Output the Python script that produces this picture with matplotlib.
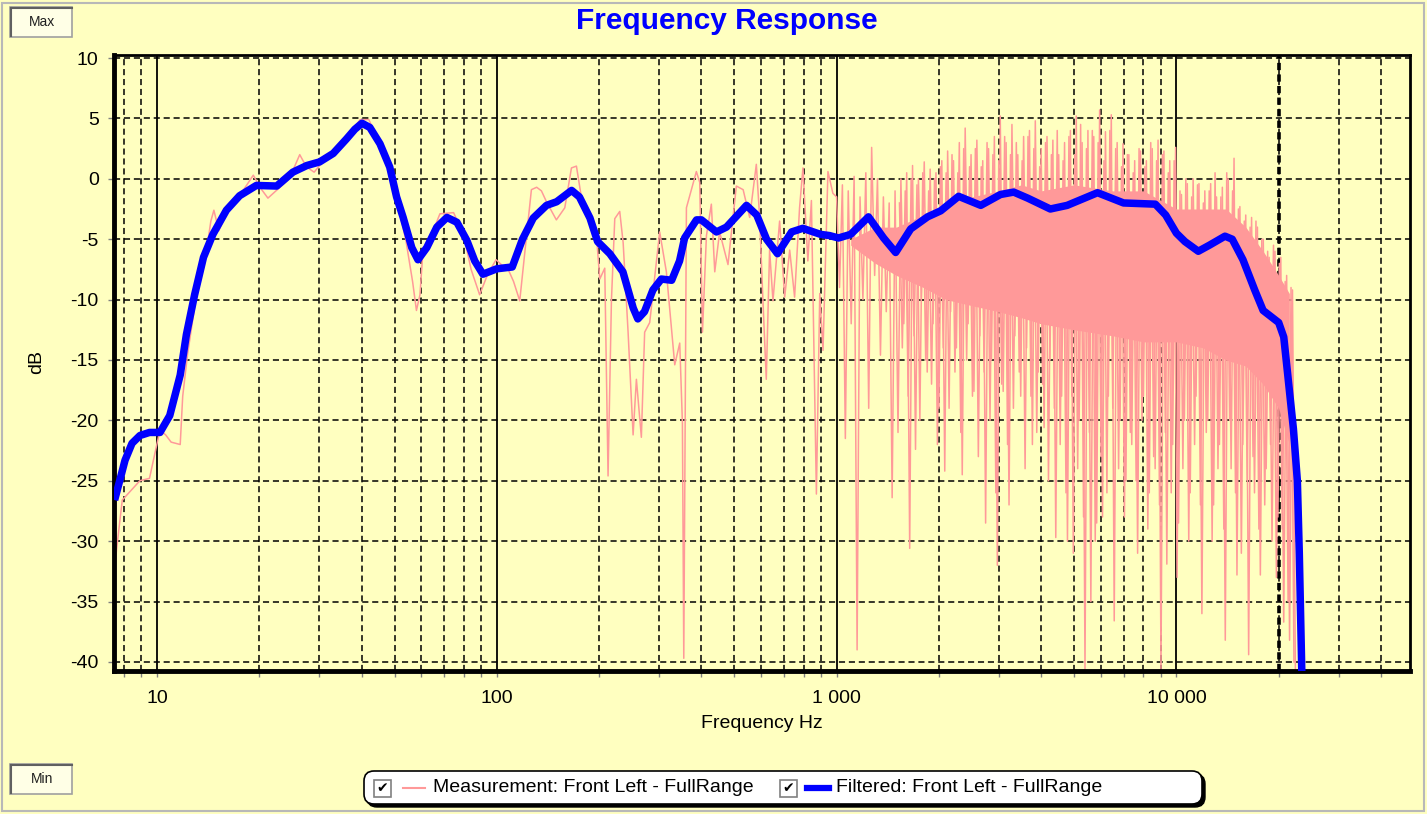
import matplotlib
matplotlib.use("Agg")
import matplotlib.pyplot as plt
from matplotlib.ticker import FixedLocator, FuncFormatter, LogLocator, NullFormatter
from matplotlib.patches import Rectangle, FancyBboxPatch
from matplotlib.lines import Line2D

plt.rcParams['font.family'] = ['Liberation Sans', 'DejaVu Sans']
plt.rcParams['axes.unicode_minus'] = False

W, H = 1427, 814
BG = '#FFFFC0'
PINK = '#FF9999'
BLUE = '#0000FF'

### data ###
# measurement, low / mid range
meas_lf_freq = [7.5, 7.6, 7.9, 8.9, 9.5, 10.0, 10.2, 10.6, 11.0, 11.7,
                11.9, 12.3, 13.0, 13.8, 14.4, 14.7, 15.2, 16.0, 17.5, 19.2,
                20.2, 21.2, 23.0, 24.5, 26.3, 27.5, 29.0, 30.5, 33.0, 36.0,
                39.6, 42.0, 45.0, 49.0, 51.5, 54.0, 56.5, 58.0, 59.4, 60.5,
                63.7, 68.0, 74.6, 79.8, 84.0, 89.0, 94.0, 99.5, 104, 108,
                112, 116.8, 121, 126.4, 131, 135.3, 140, 149.7, 158.5, 165.8,
                171.5, 179.4, 188, 196.4, 200.9, 207.8, 212.5, 217.4, 222.4, 230,
                235.4, 243.4, 251.8, 257.5, 266.3, 272.3, 281.8, 301.5, 315.5, 333.9,
                345.4, 351.7, 355, 361.4, 386.6, 395.5, 402.9, 413.9, 427.9, 437.9,
                452.6, 479, 506.9, 530.8, 554.8, 580.4, 593.6, 607, 620.9, 635,
                649.7, 679.6, 703.4, 727.6, 752.3, 778, 796, 823, 843, 872,
                892, 912, 943, 975]
meas_lf_db = [-32.5, -30.7, -26.6, -25.0, -24.8, -21.9, -20.8, -21.2, -21.8, -22.0,
              -18.0, -14.5, -10.0, -7.0, -3.5, -2.6, -4.3, -2.8, -1.4, 0.3,
              -0.8, -1.6, -0.7, 0.0, 2.0, 1.0, 0.55, 1.3, 2.1, 3.3,
              4.9, 4.9, 3.1, 0.4, -2.5, -5.1, -8.5, -10.9, -9.6, -6.3,
              -4.9, -2.9, -2.8, -4.6, -7.5, -9.6, -7.9, -6.7, -7.2, -7.5,
              -8.5, -10.1, -6.0, -0.9, -0.7, -1.0, -1.9, -3.4, -2.4, 0.9,
              1.05, -2.4, -3.5, -4.7, -8.3, -7.4, -24.6, -10.1, -3.3, -2.7,
              -5.3, -12.7, -21.2, -16.6, -21.4, -12.7, -11.9, -4.4, -7.7, -15.4,
              -13.6, -20.2, -39.7, -2.4, 0.6, -0.3, -12.7, -4.7, -2.1, -7.7,
              -4.4, -7.1, -0.6, -0.9, -3.2, 1.2, -3.2, -10.1, -16.6, -5.9,
              -10.1, -3.5, -9.8, -5.9, -9.8, -2.4, 0.9, -6.8, -1.8, -26.1,
              -9.5, -14.2, 0.6, -1.2]

# measurement, high range (peaks and dips alternate)
meas_hf_freq = [1000, 1020, 1040, 1061, 1082, 1104, 1126, 1149, 1172, 1195,
                1219, 1243, 1268, 1294, 1319, 1346, 1373, 1400, 1428, 1457,
                1486, 1516, 1546, 1577, 1608, 1641, 1673, 1707, 1741, 1776,
                1811, 1848, 1885, 1922, 1961, 2000, 2040, 2081, 2122, 2165,
                2208, 2252, 2297, 2343, 2390, 2438, 2487, 2536, 2587, 2639,
                2692, 2745, 2800, 2856, 2913, 2972, 3031, 3092, 3154, 3217,
                3281, 3347, 3414, 3482, 3551, 3623, 3695, 3769, 3844, 3921,
                4000, 4080, 4161, 4245, 4330, 4416, 4505, 4595, 4687, 4780,
                4876, 4973, 5073, 5174, 5278, 5383, 5491, 5601, 5713, 5827,
                5944, 6062, 6184, 6307, 6433, 6562, 6693, 6827, 6964, 7103,
                7245, 7390, 7538, 7689, 7842, 7999, 8159, 8322, 8489, 8659,
                8832, 9009, 9189, 9373, 9560, 9751, 9946, 10145, 10348, 10555,
                10766, 10982, 11201, 11425, 11654, 11887, 12125, 12367, 12615, 12867,
                13124, 13387, 13654, 13928, 14206, 14490, 14780, 15076, 15377, 15685,
                15999, 16319, 16645, 16978, 17317, 17664, 18017, 18377, 18745, 19120,
                19502, 19892, 20290, 20696, 21110, 21532, 21963, 22402]
meas_hf_db = [-1.5, -9, -0.5, -21.5, -1, -12, 0.2, -39, -1.5, -10,
              0.5, -19, 2.6, -8, 0, -14.6, -1.5, -11, -2, -26.4,
              -1, -21, 0, -12, 0.5, -30.6, 1.1, -22.4, 0, -10,
              1.4, -16, 0.8, -12, 0.5, -19, 1.5, -24.2, 2.3, -11,
              1.5, -14, 3, -24.5, 4.2, -12, 2, -17.6, 3.2, -13,
              1.5, -28.5, 2.5, -15, 3.5, -32, 5.2, -17.6, 3, -27,
              4.5, -13, 2, -18, 3.5, -14, 4, -22, 4.8, -16,
              2.5, -20.6, 3.5, -15, 3.2, -29.7, 2, -18, 3, -30,
              4, -31, 5.2, -20, 3, -40.6, 4, -35, 3.5, -28.5,
              5.7, -28, 3.9, -18, 5.3, -36.6, 3, -20, 2.9, -25,
              2, -22, 1.5, -31, 2.3, -18, 1.5, -26, 2.5, -24,
              3.2, -40.6, 2.3, -31.9, 1.5, -22, 2.6, -28.5, -1.3, -20,
              -0.4, -26, 0, -18, -0.4, -36, -1, -20, -0.4, -27,
              -1.5, -22, -0.7, -38.2, 0, -24, 1.7, -32.8, -2.3, -22,
              -3, -39.4, -3.2, -26, -4, -32.8, -5, -24, -6.5, -30,
              -6, -28, -6.5, -36.7, -8, -38.2, -9.2, -41]

# measurement, extra spikes between the ones above
meas_hf2_freq = [1531, 1561, 1592, 1624, 1657, 1690, 1724, 1758, 1793, 1829,
                 1866, 1903, 1941, 1980, 2020, 2060, 2101, 2143, 2186, 2230,
                 2274, 2320, 2366, 2414, 2462, 2511, 2561, 2613, 2665, 2718,
                 2772, 2828, 2884, 2942, 3001, 3061, 3123, 3185, 3249, 3314,
                 3380, 3448, 3516, 3587, 3659, 3732, 3806, 3882, 3960, 4040,
                 4120, 4203, 4287, 4373, 4460, 4550, 4641, 4733, 4828, 4924,
                 5023, 5123, 5226, 5330, 5437, 5546, 5657, 5770, 5885, 6003,
                 6123, 6245, 6370, 6498, 6628, 6760, 6895, 7033, 7174, 7318,
                 7464, 7613, 7765, 7921, 8079, 8240, 8405, 8573, 8745, 8920,
                 9099, 9281, 9466, 9656, 9849, 10046, 10246, 10451, 10660, 10874,
                 11091, 11313, 11539, 11770, 12006, 12246, 12491, 12741, 12996, 13255,
                 13520, 13791, 14067, 14348, 14635, 14928, 15226, 15531, 15842, 16159,
                 16482, 16811, 17148, 17491, 17840, 18197, 18561, 18932, 19311, 19697,
                 20091, 20493, 20903, 21321, 21747, 22182]
meas_hf2_db = [-2, -14, -1, -18, 0, -13, -0.5, -20, 0.5, -15,
               -1, -17, 0, -22, 1, -14, 0.5, -19, 2, -16,
               0.5, -21, 2.5, -15, 1, -18, 2.5, -23, 1, -16,
               3, -20, 2, -26, 1.5, -17, 3.5, -22, 2, -19,
               3, -16, 1.5, -24, 3.5, -18, 2.5, -21, 1, -17,
               3, -25, 2, -19, 4, -22, 1.5, -26, 3.5, -18,
               2, -24, 4.5, -28, 2.5, -21, 4, -30, 3, -23,
               1.5, -26, 4, -19, 2.5, -24, 1, -28, 2, -21,
               0.5, -25, 2.5, -20, 1, -29, 3, -23, 1.5, -27,
               2, -21, 0.5, -26, 1.5, -33, -1, -24, 0, -30,
               -1.5, -22, -0.5, -27, -2, -21, -1, -30, 0.5, -24,
               -1.5, -29, 0.5, -20, -1, -26, -2.5, -31, -3.5, -25,
               -4, -23, -3.5, -29, -5, -27, -6, -22, -5.5, -33,
               -7, -29, -8.5, -35, -9, -40]

# dense core of the measurement trace (where it fills solid)
core_freq = [1100, 1300, 1500, 1800, 2100, 2500, 3000, 3500, 4000, 5000,
             6500, 8000, 10000, 12000, 14000, 16000, 18000, 20000, 21500]
core_top = [-5, -4, -4, -3, -2, -1.5, -1, -0.5, -1, -0.5,
            -1, -1, -2.5, -2.5, -2.5, -4, -6, -8, -9.5]
core_bot = [-5.5, -7, -8, -9, -10, -10.5, -11, -11.5, -12, -12.5,
            -13, -13.5, -13.5, -14, -15, -15.5, -17, -19, -22]

# filtered (smoothed) response
filt_freq = [7.5, 7.78, 8.05, 8.44, 8.91, 9.5, 10.2, 10.9, 11.7, 12.2,
             12.9, 13.7, 14.6, 16.0, 17.5, 19.6, 22.5, 25.1, 27.6, 30.1,
             33.0, 36.1, 38.2, 40.1, 42.3, 45.3, 48.4, 50.7, 53.0, 56.2, 58.6,
             62.2, 66.6, 71.3, 76.3, 81.6, 86.1, 91.0, 100, 111, 119,
             128, 140, 150, 166, 175, 188, 198, 215, 235, 252,
             260, 272, 288, 305, 327, 345, 357, 387, 400, 443,
             474, 543, 582, 622, 670, 737, 795, 897, 953, 1013,
             1100, 1241, 1375, 1492, 1652, 1852, 2025, 2286, 2656, 3036,
             3320, 3650, 4256, 4770, 5860, 6990, 8670, 9300, 10000, 10600,
             11600, 12500, 13900, 14600, 15700, 17000, 18000, 20000, 20700, 21300,
             22100, 22700, 23000, 23400]
filt_db = [-26.6, -24.9, -23.3, -21.9, -21.25, -21.0, -21.0, -19.6, -16.25, -12.9,
           -9.6, -6.5, -4.6, -2.6, -1.4, -0.55, -0.6, 0.55, 1.1, 1.4,
           2.1, 3.3, 4.1, 4.6, 4.25, 2.9, 0.97, -1.5, -3.2, -5.7, -6.7,
           -5.7, -4.0, -3.2, -3.6, -5.1, -6.8, -7.9, -7.45, -7.3, -5.0,
           -3.25, -2.2, -1.9, -0.96, -1.5, -3.25, -5.2, -6.2, -7.7, -10.7,
           -11.6, -11.0, -9.2, -8.3, -8.4, -6.8, -4.9, -3.4, -3.4, -4.4,
           -4.0, -2.2, -3.0, -5.0, -6.2, -4.4, -4.1, -4.6, -4.7, -4.9,
           -4.6, -3.15, -4.9, -6.1, -4.15, -3.15, -2.65, -1.45, -2.2, -1.3,
           -1.1, -1.6, -2.5, -2.2, -1.15, -2.0, -2.1, -3.0, -4.5, -5.2,
           -6.0, -5.5, -4.75, -5.0, -6.7, -9.2, -10.9, -11.9, -13.1, -16.4,
           -20.7, -25.0, -31.0, -41.0]

x_major = [10, 100, 1000, 10000]
y_ticks = [-40, -35, -30, -25, -20, -15, -10, -5, 0, 5, 10]

meas_label = 'Measurement: Front Left - FullRange'
filt_label = 'Filtered: Front Left - FullRange'


def inch(x, y):
    # pixel position (top-left origin) -> inches from bottom-left
    return x / 100.0, (H - y) / 100.0


fig = plt.figure(figsize=(W / 100, H / 100), dpi=100, facecolor=BG)
ax = fig.add_axes([114 / W, 1 - 671 / H, (1410 - 114) / W, (671 - 55) / H])
ax.set_facecolor(BG)
ax.set_xscale('log')
ax.set_xlim(7.47, 48700)
ax.set_ylim(-40.75, 10.25)

# grid
ax.set_axisbelow(True)
ax.xaxis.set_major_locator(FixedLocator(x_major))
ax.xaxis.set_minor_locator(LogLocator(base=10, subs=range(2, 10), numticks=20))
ax.xaxis.set_major_formatter(FuncFormatter(lambda v, p: f'{int(round(v)):,}'.replace(',', ' ')))
ax.xaxis.set_minor_formatter(NullFormatter())
ax.yaxis.set_major_locator(FixedLocator(y_ticks))
ax.grid(which='major', axis='x', color='black', ls='-', lw=1.3)
ax.grid(which='minor', axis='x', color='black', ls=(0, (4, 2.5)), lw=1.1)
ax.grid(which='major', axis='y', color='black', ls=(0, (4, 2.5)), lw=1.1)
ax.axvline(20000, color='black', ls=(0, (2, 1.2)), lw=2.6, zorder=1)

ax.tick_params(axis='both', which='both', direction='out', color='#808080',
               length=4, width=1, labelsize=14, labelcolor='black')
ax.tick_params(axis='x', which='both', pad=10)
ax.tick_params(axis='y', pad=7)

for side, lw in (('left', 3.5), ('bottom', 3.5), ('top', 2), ('right', 2)):
    ax.spines[side].set_linewidth(lw)
    ax.spines[side].set_color('black')

# measurement trace
ax.fill_between(core_freq, core_bot, core_top, color=PINK, lw=0, zorder=2)
ax.plot(meas_lf_freq + meas_hf_freq, meas_lf_db + meas_hf_db, color=PINK, lw=1.1, zorder=2)
ax.plot(meas_hf2_freq, meas_hf2_db, color=PINK, lw=1.1, zorder=2)
# filtered trace
ax.plot(filt_freq, filt_db, color=BLUE, lw=5.4, solid_joinstyle='round',
        solid_capstyle='butt', zorder=3)

# texts
fig.text(727 / W, 1 - 21 / H, 'Frequency Response', color=BLUE, fontsize=21.5,
         fontweight='bold', ha='center', va='center')
fig.text(762 / W, 1 - 724 / H, 'Frequency Hz', fontsize=14, ha='center', va='center')
fig.text(37 / W, 1 - 362 / H, 'dB', fontsize=14, rotation=90, ha='center', va='center')

# Max / Min buttons
for label, y0 in (('Max', 7), ('Min', 764)):
    x_l, y_b = inch(10, y0 + 30)
    fig.patches.append(Rectangle((x_l, y_b), 0.62, 0.30, transform=fig.dpi_scale_trans,
                                 facecolor='#FFFFE6', edgecolor='#A0A0A0', lw=1.2))
    xa, ya = inch(11, y0 + 1)
    xb, yb = inch(11, y0 + 29)
    fig.add_artist(Line2D([xa, xb], [ya, yb], transform=fig.dpi_scale_trans, color='#606060', lw=1.5))
    xc, yc = inch(72, y0 + 1)
    fig.add_artist(Line2D([xa, xc], [ya, yc], transform=fig.dpi_scale_trans, color='#606060', lw=1.5))
    tx, ty = inch(42, y0 + 15)
    fig.text(tx, ty, label, fontsize=10, ha='center', va='center',
             transform=fig.dpi_scale_trans, color='#202020')

# legend box
lx, ly = inch(364, 804)
fig.patches.append(FancyBboxPatch((lx + 0.03, ly - 0.03), 8.38, 0.33,
                                  boxstyle='round,pad=0,rounding_size=0.1',
                                  transform=fig.dpi_scale_trans, facecolor='black', edgecolor='black'))
fig.patches.append(FancyBboxPatch((lx, ly), 8.38, 0.33,
                                  boxstyle='round,pad=0,rounding_size=0.1',
                                  transform=fig.dpi_scale_trans, facecolor='white',
                                  edgecolor='black', lw=1.2))
for cx in (374, 780):
    bx, by = inch(cx, 797)
    fig.patches.append(Rectangle((bx, by), 0.17, 0.17, transform=fig.dpi_scale_trans,
                                 facecolor='white', edgecolor='#808080', lw=1.2))
    tx, ty = inch(cx + 8.5, 788)
    fig.text(tx, ty, '\u2714', family='DejaVu Sans', fontsize=10, ha='center', va='center',
             transform=fig.dpi_scale_trans, color='black')
x0, y0 = inch(403, 788)
x1, _ = inch(425, 788)
fig.add_artist(Line2D([x0, x1], [y0, y0], transform=fig.dpi_scale_trans, color=PINK, lw=1.5))
x0, _ = inch(807, 788)
x1, _ = inch(829, 788)
fig.add_artist(Line2D([x0, x1], [y0, y0], transform=fig.dpi_scale_trans, color=BLUE, lw=4.5))
tx, ty = inch(433, 788)
fig.text(tx, ty, meas_label, fontsize=14, ha='left', va='center', transform=fig.dpi_scale_trans)
tx, _ = inch(836, 788)
fig.text(tx, ty, filt_label, fontsize=14, ha='left', va='center', transform=fig.dpi_scale_trans)

# window frame
fx, fy = inch(2, 811)
fig.patches.append(Rectangle((fx, fy), 14.22, 8.08, transform=fig.dpi_scale_trans,
                             facecolor='none', edgecolor='#B8B8B8', lw=1.5))

fig.savefig('out.png', dpi=100, facecolor=BG)
